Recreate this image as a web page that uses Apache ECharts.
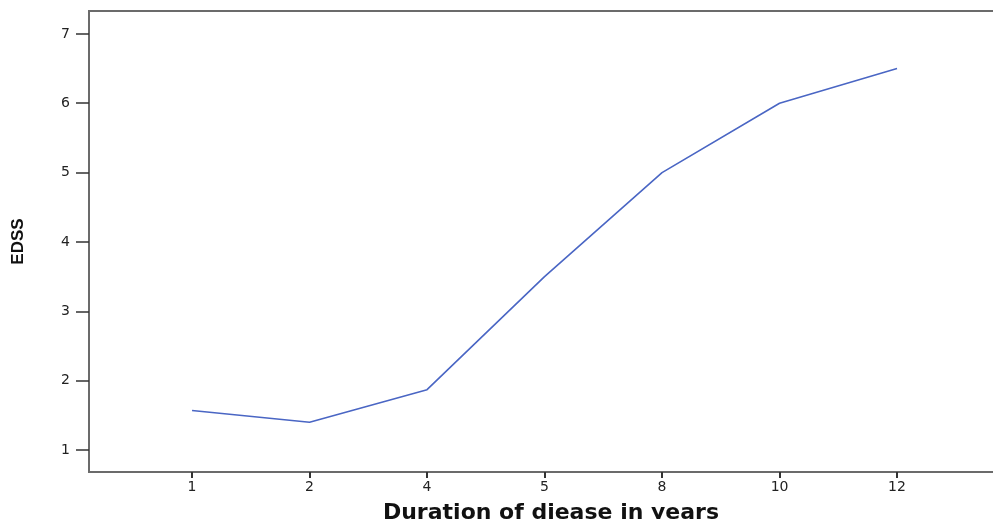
<!DOCTYPE html>
<html>
<head>
<meta charset="utf-8">
<script src="https://cdn.jsdelivr.net/npm/echarts@6/dist/echarts.min.js"></script>
<style>html,body{margin:0;padding:0;background:#fff;}#c{width:993px;height:519px;}</style>
</head>
<body>
<div id="c"></div>
<script>
const categories = ['1', '2', '4', '5', '8', '10', '12'];
const edss = [1.57, 1.40, 1.87, 3.5, 5.0, 6.0, 6.5];
const yTicks = [1, 2, 3, 4, 5, 6, 7];
const xTicks = categories.map((c, i) => i);

const chart = echarts.init(document.getElementById('c'), null, {renderer: 'canvas'});
chart.setOption({
  animation: false,
  backgroundColor: '#ffffff',
  grid: {left: 89, top: 11, height: 461, width: 924, show: true, borderColor: '#6b6b6b', borderWidth: 2, containLabel: false, outerBoundsMode: 'none'},
  xAxis: {
    type: 'value', min: -0.877, max: 6.987,
    splitLine: {show: false},
    axisLine: {show: false, onZero: false},
    axisTick: {show: true, length: 6, lineStyle: {color: '#333', width: 2}, customValues: xTicks},
    axisLabel: {customValues: xTicks, formatter: v => categories[Math.round(v)], color: '#222', fontSize: 14, fontFamily: 'DejaVu Sans', margin: 8},
    name: 'Duration of diease in years', nameLocation: 'middle', nameGap: 30,
    nameTextStyle: {fontFamily: 'DejaVu Sans', fontWeight: 'bold', fontSize: 22, color: '#111'}
  },
  yAxis: {
    type: 'value', min: 0.683, max: 7.33,
    splitLine: {show: false},
    axisLine: {show: false, onZero: false},
    axisTick: {show: true, length: 13, lineStyle: {color: '#333', width: 1.5}, customValues: yTicks},
    axisLabel: {customValues: yTicks, color: '#222', fontSize: 14, fontFamily: 'DejaVu Sans', margin: 19},
    name: 'EDSS', nameLocation: 'middle', nameGap: 62, nameRotate: 90,
    nameTextStyle: {fontFamily: 'Liberation Sans Narrow, Liberation Sans', fontWeight: 'bold', fontSize: 17, color: '#111'}
  },
  series: [{
    type: 'line',
    data: categories.map((c, i) => [i, edss[i]]),
    showSymbol: false,
    lineStyle: {color: '#4a66c4', width: 1.6},
    itemStyle: {color: '#4a66c4'}
  }]
});
</script>
</body>
</html>
